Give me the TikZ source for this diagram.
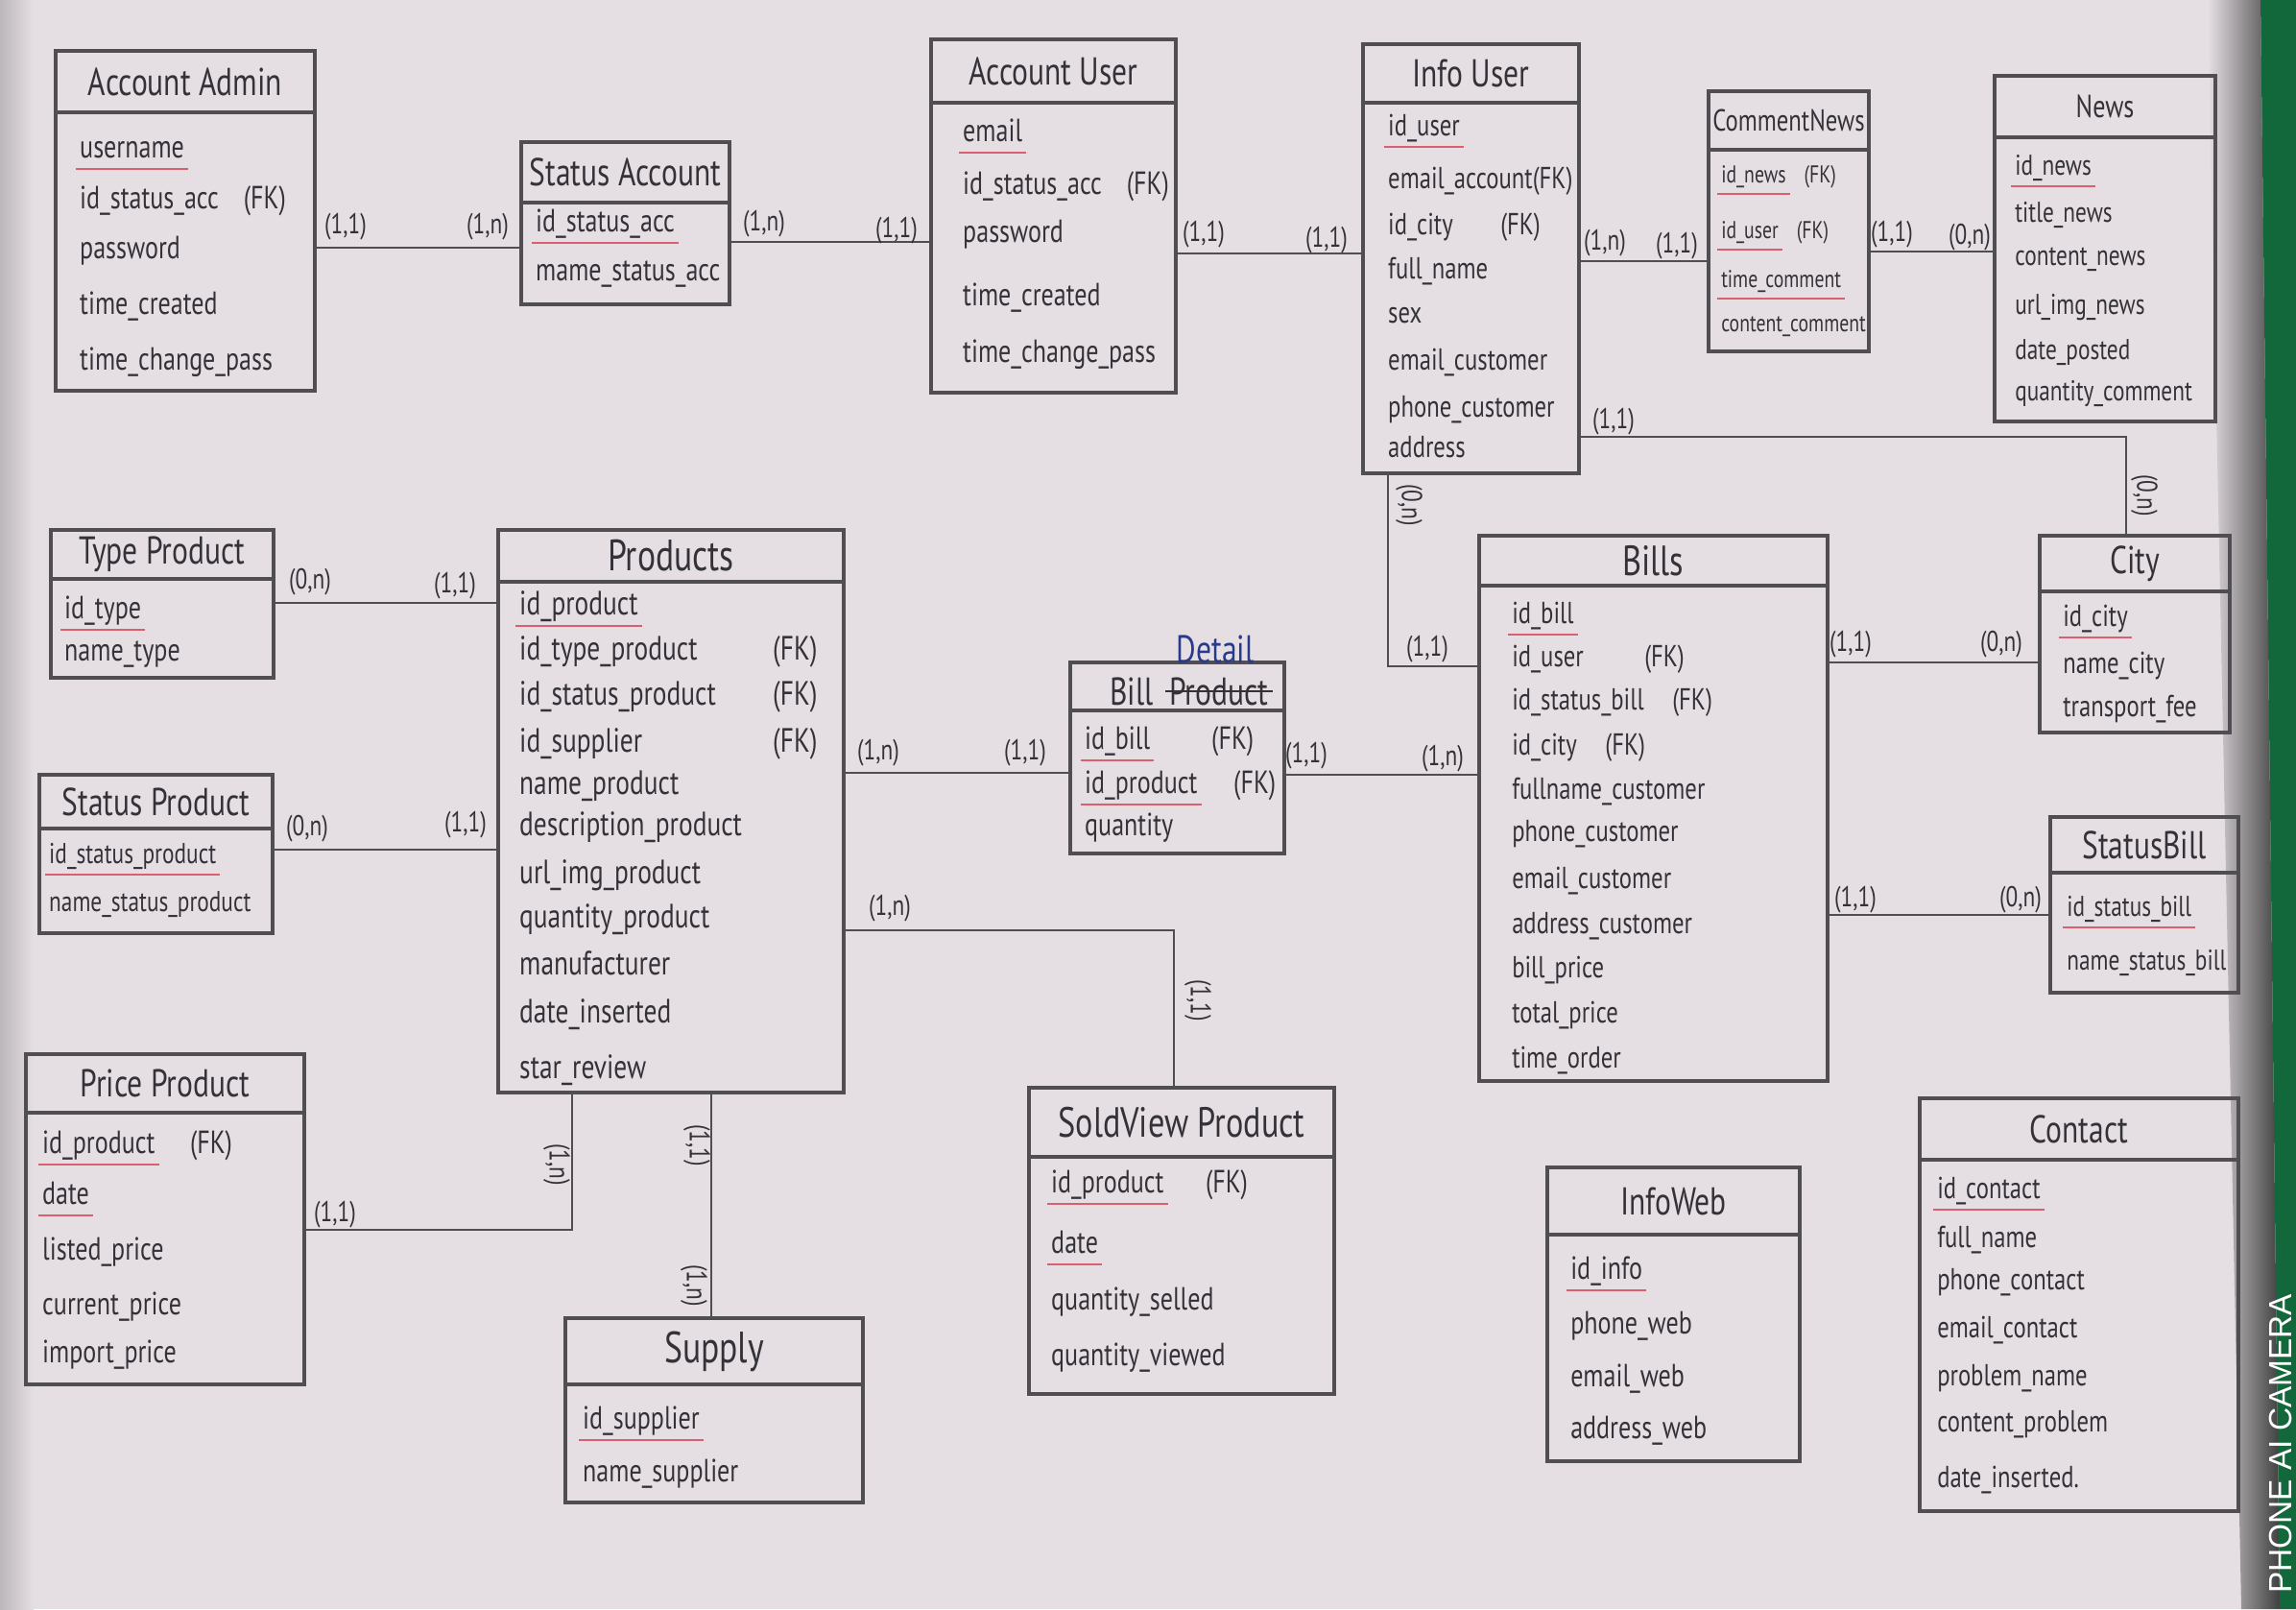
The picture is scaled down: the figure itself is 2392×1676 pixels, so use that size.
\documentclass[tikz,border=0pt]{standalone}
\usepackage{fontspec}
\setmainfont{PT Sans}[FakeStretch=0.78]
\newfontfamily\markfont{Liberation Sans}
\usetikzlibrary{fit,positioning}
\definecolor{paper}{RGB}{229,223,227}
\definecolor{pencil}{RGB}{80,78,82}
\definecolor{ink}{RGB}{52,50,56}
\definecolor{pkred}{RGB}{216,96,112}
\definecolor{bluepen}{RGB}{40,58,140}
\definecolor{felt}{RGB}{18,104,58}
\newcommand{\entity}[7]{%
  \node[box, fit={(#2,#3) (#4,#5)}] (#1) {};
  \draw[box] (#1.west |- 0,#6) -- (#1.east |- 0,#6);
  \node[title] (#1-title) at ({(#2+#4)/2},{(#3+#6)/2}) {#7};
}
\tikzset{
  box/.style={draw=pencil, line width=0.9pt, inner sep=0pt},
  title/.style={text=ink, font=\fontsize{11.5}{13}\selectfont},
  attr/.style={text=ink, anchor=west, inner sep=1pt, text height=7pt, text depth=2pt, font=\fontsize{9.5}{11}\selectfont},
  pk/.style={attr, append after command={(\tikzlastnode.south west) edge[pkline] (\tikzlastnode.south east)}},
  pkline/.style={draw=pkred, line width=0.8pt},
  link/.style={draw=pencil, line width=0.8pt},
  card/.style={text=ink, inner sep=1pt, font=\fontsize{8.5}{10}\selectfont},
  cardv/.style={card, rotate=-90},
}
\begin{document}
\begin{tikzpicture}[x=0.01cm, y=-0.01cm]
  %%%%% PAPER %%%%%
  \useasboundingbox (0,0) rectangle (2392,1676);
  \fill[paper] (0,0) rectangle (2392,1676);
  \shade[left color=black!18!paper, right color=paper] (0,0) rectangle (35,1676);
  \shade[left color=paper, right color=black!75] (2300,0) -- (2355,0) -- (2375,1676) -- (2335,1676) -- cycle;
  \fill[felt] (2355,0) -- (2392,0) -- (2392,1676) -- (2375,1676) -- cycle;
  \node[text=white, rotate=90, anchor=west, font=\markfont\fontsize{9.5}{11}\selectfont] (mark) at (2376,1672) {PHONE AI CAMERA};

  %%%%% ACCOUNTS %%%%%
  \entity{admin}{58}{53}{328}{407}{117}{Account Admin}
  \node[pk] (admin-a1) at (79,156) {username};
  \node[attr] (admin-a2) at (79,209) {id\_status\_acc};
  \node[attr, right=5pt of admin-a2] (admin-fk) {(FK)};
  \node[attr] (admin-a3) at (79,261) {password};
  \node[attr] (admin-a4) at (79,319) {time\_created};
  \node[attr] (admin-a5) at (79,377) {time\_change\_pass};

  \entity{sacc}{543}{148}{760}{317}{211}{Status Account}
  \node[pk] (sacc-a1) at (554,233) {id\_status\_acc};
  \node[attr] (sacc-a2) at (554,284) {mame\_status\_acc};

  \entity{auser}{970}{41}{1225}{409}{107}{Account User}
  \node[pk] (auser-a1) at (999,139) {email};
  \node[attr] (auser-a2) at (999,194) {id\_status\_acc};
  \node[attr, right=5pt of auser-a2] (auser-fk) {(FK)};
  \node[attr] (auser-a3) at (999,244) {password};
  \node[attr] (auser-a4) at (999,310) {time\_created};
  \node[attr] (auser-a5) at (999,369) {time\_change\_pass};

  \entity{iuser}{1420}{46}{1645}{493}{107}{Info User}
  \begin{scope}[attr/.append style={font=\fontsize{9}{10}\selectfont}]
  \node[pk] (iuser-a1) at (1442,133) {id\_user};
  \node[attr] (iuser-a2) at (1442,188) {email\_account(FK)};
  \node[attr] (iuser-a3) at (1442,236) {id\_city};
  \node[attr] (iuser-fk) at (1559,236) {(FK)};
  \node[attr] (iuser-a4) at (1442,282) {full\_name};
  \node[attr] (iuser-a5) at (1442,328) {sex};
  \node[attr] (iuser-a6) at (1442,377) {email\_customer};
  \node[attr] (iuser-a7) at (1442,426) {phone\_customer};
  \node[attr] (iuser-a8) at (1442,468) {address};
  \end{scope}

  %%%%% NEWS %%%%%
  \entity{cnews}{1780}{95}{1947}{366}{156}{\fontsize{9}{10}\selectfont CommentNews}
  \begin{scope}[attr/.append style={font=\fontsize{7.2}{9}\selectfont}]
  \node[pk] (cnews-a1) at (1789,182) {id\_news};
  \node[attr, right=3pt of cnews-a1] (cnews-fk1) {(FK)};
  \node[pk] (cnews-a2) at (1789,240) {id\_user};
  \node[attr, right=3pt of cnews-a2] (cnews-fk2) {(FK)};
  \node[pk] (cnews-a3) at (1789,291) {time\_comment};
  \node[attr] (cnews-a4) at (1789,337) {content\_comment};
  \end{scope}

  \entity{news}{2078}{79}{2308}{439}{143}{\fontsize{9.5}{11}\selectfont News}
  \begin{scope}[attr/.append style={font=\fontsize{8.5}{10}\selectfont}]
  \node[pk] (news-a1) at (2095,174) {id\_news};
  \node[attr] (news-a2) at (2095,223) {title\_news};
  \node[attr] (news-a3) at (2095,268) {content\_news};
  \node[attr] (news-a4) at (2095,319) {url\_img\_news};
  \node[attr] (news-a5) at (2095,366) {date\_posted};
  \node[attr] (news-a6) at (2095,409) {quantity\_comment};
  \end{scope}

  %%%%% PRODUCTS %%%%%
  \entity{tprod}{53}{552}{285}{706}{603}{Type Product}
  \node[pk] (tprod-a1) at (63,636) {id\_type};
  \node[attr] (tprod-a2) at (63,680) {name\_type};

  \entity{sprod}{41}{807}{284}{972}{863}{Status Product}
  \begin{scope}[attr/.append style={font=\fontsize{8.5}{10}\selectfont}]
  \node[pk] (sprod-a1) at (47,891) {id\_status\_product};
  \node[attr] (sprod-a2) at (47,941) {name\_status\_product};
  \end{scope}

  \entity{pprod}{27}{1098}{317}{1442}{1159}{Price Product}
  \node[pk] (pprod-a1) at (40,1193) {id\_product};
  \node[attr, right=8pt of pprod-a1] (pprod-fk) {(FK)};
  \node[pk] (pprod-a2) at (40,1246) {date};
  \node[attr] (pprod-a3) at (40,1304) {listed\_price};
  \node[attr] (pprod-a4) at (40,1361) {current\_price};
  \node[attr] (pprod-a5) at (40,1411) {import\_price};

  \entity{prod}{519}{552}{879}{1138}{606}{\fontsize{13}{15}\selectfont Products}
  \begin{scope}[attr/.append style={font=\fontsize{10}{12}\selectfont}]
  \node[pk] (prod-a1) at (537,632) {id\_product};
  \node[attr] (prod-a2) at (537,679) {id\_type\_product};
  \node[attr] (prod-fk2) at (801,679) {(FK)};
  \node[attr] (prod-a3) at (537,726) {id\_status\_product};
  \node[attr] (prod-fk3) at (801,726) {(FK)};
  \node[attr] (prod-a4) at (537,775) {id\_supplier};
  \node[attr] (prod-fk4) at (801,775) {(FK)};
  \node[attr] (prod-a5) at (537,819) {name\_product};
  \node[attr] (prod-a6) at (537,862) {description\_product};
  \node[attr] (prod-a7) at (537,912) {url\_img\_product};
  \node[attr] (prod-a8) at (537,958) {quantity\_product};
  \node[attr] (prod-a9) at (537,1007) {manufacturer};
  \node[attr] (prod-a10) at (537,1057) {date\_inserted};
  \node[attr] (prod-a11) at (537,1115) {star\_review};
  \end{scope}

  \entity{supply}{589}{1373}{899}{1565}{1442}{\fontsize{13}{15}\selectfont Supply}
  \node[pk] (supply-a1) at (603,1480) {id\_supplier};
  \node[attr] (supply-a2) at (603,1535) {name\_supplier};

  \entity{svp}{1072}{1133}{1390}{1452}{1205}{\fontsize{12.5}{14}\selectfont SoldView Product}
  \node[pk] (svp-a1) at (1091,1234) {id\_product};
  \node[attr, right=10pt of svp-a1] (svp-fk) {(FK)};
  \node[pk] (svp-a2) at (1091,1297) {date};
  \node[attr] (svp-a3) at (1091,1356) {quantity\_selled};
  \node[attr] (svp-a4) at (1091,1414) {quantity\_viewed};

  %%%%% BILLS %%%%%
  \entity{bdet}{1115}{690}{1338}{889}{740}{}
  \node[title, anchor=east] (bdet-bill) at (1214,720) {Bill};
  \node[title, anchor=west, inner sep=1pt] (bdet-old) at (bdet-bill.east) {Product};
  \draw[ink, line width=0.8pt] (bdet-old.west) -- (bdet-old.east);
  \node[title, text=bluepen] (bdet-new) at (1266,676) {Detail};
  \node[pk] (bdet-a1) at (1126,772) {id\_bill};
  \node[attr] (bdet-fk1) at (1258,772) {(FK)};
  \node[pk] (bdet-a2) at (1126,818) {id\_product};
  \node[attr] (bdet-fk2) at (1281,818) {(FK)};
  \node[attr] (bdet-a3) at (1126,862) {quantity};

  \entity{bills}{1541}{558}{1904}{1126}{610}{\fontsize{12.5}{14}\selectfont Bills}
  \begin{scope}[attr/.append style={font=\fontsize{9}{11}\selectfont}]
  \node[pk] (bills-a1) at (1571,641) {id\_bill};
  \node[attr] (bills-a2) at (1571,686) {id\_user};
  \node[attr] (bills-fk2) at (1709,686) {(FK)};
  \node[attr] (bills-a3) at (1571,731) {id\_status\_bill};
  \node[attr, right=6pt of bills-a3] (bills-fk3) {(FK)};
  \node[attr] (bills-a4) at (1571,778) {id\_city};
  \node[attr, right=6pt of bills-a4] (bills-fk4) {(FK)};
  \node[attr] (bills-a5) at (1571,824) {fullname\_customer};
  \node[attr] (bills-a6) at (1571,868) {phone\_customer};
  \node[attr] (bills-a7) at (1571,917) {email\_customer};
  \node[attr] (bills-a8) at (1571,964) {address\_customer};
  \node[attr] (bills-a9) at (1571,1010) {bill\_price};
  \node[attr] (bills-a10) at (1571,1057) {total\_price};
  \node[attr] (bills-a11) at (1571,1104) {time\_order};
  \end{scope}

  \entity{city}{2125}{558}{2323}{763}{616}{City}
  \begin{scope}[attr/.append style={font=\fontsize{9}{11}\selectfont}]
  \node[pk] (city-a1) at (2145,644) {id\_city};
  \node[attr] (city-a2) at (2145,693) {name\_city};
  \node[attr] (city-a3) at (2145,738) {transport\_fee};
  \end{scope}

  \entity{sbill}{2136}{851}{2332}{1034}{909}{StatusBill}
  \begin{scope}[attr/.append style={font=\fontsize{8.5}{10}\selectfont}]
  \node[pk] (sbill-a1) at (2149,946) {id\_status\_bill};
  \node[attr] (sbill-a2) at (2149,1002) {name\_status\_bill};
  \end{scope}

  %%%%% WEBSITE %%%%%
  \entity{iweb}{1612}{1216}{1875}{1522}{1286}{InfoWeb}
  \node[pk] (iweb-a1) at (1632,1324) {id\_info};
  \node[attr] (iweb-a2) at (1632,1381) {phone\_web};
  \node[attr] (iweb-a3) at (1632,1436) {email\_web};
  \node[attr] (iweb-a4) at (1632,1490) {address\_web};

  \entity{contact}{2000}{1144}{2332}{1574}{1208}{Contact}
  \begin{scope}[attr/.append style={font=\fontsize{9}{11}\selectfont}]
  \node[pk] (contact-a1) at (2014,1240) {id\_contact};
  \node[attr] (contact-a2) at (2014,1291) {full\_name};
  \node[attr] (contact-a3) at (2014,1335) {phone\_contact};
  \node[attr] (contact-a4) at (2014,1385) {email\_contact};
  \node[attr] (contact-a5) at (2014,1435) {problem\_name};
  \node[attr] (contact-a6) at (2014,1483) {content\_problem};
  \node[attr] (contact-a7) at (2014,1541) {date\_inserted.};
  \end{scope}

  %%%%% LINKS %%%%%
  \draw[link] (admin.east |- 0,258) -- (sacc.west |- 0,258);
  \node[card] (c1a) at (360,236) {(1,1)};
  \node[card] (c1b) at (508,236) {(1,n)};

  \draw[link] (sacc.east |- 0,252) -- (auser.west |- 0,252);
  \node[card] (c2a) at (796,233) {(1,n)};
  \node[card] (c2b) at (934,240) {(1,1)};

  \draw[link] (auser.east |- 0,264) -- (iuser.west |- 0,264);
  \node[card] (c3a) at (1254,244) {(1,1)};
  \node[card] (c3b) at (1382,250) {(1,1)};

  \draw[link] (iuser.east |- 0,272) -- (cnews.west |- 0,272);
  \node[card] (c4a) at (1672,253) {(1,n)};
  \node[card] (c4b) at (1747,256) {(1,1)};

  \draw[link] (cnews.east |- 0,262) -- (news.west |- 0,262);
  \node[card] (c5a) at (1971,244) {(1,1)};
  \node[card] (c5b) at (2052,247) {(0,n)};

  \coordinate (cityjoint) at (2215,455);
  \draw[link] (iuser.east |- cityjoint) -- (cityjoint) -- (cityjoint |- city.north);
  \node[card] (c6a) at (1681,439) {(1,1)};
  \node[cardv] (c6b) at (2234,516) {(0,n)};

  \coordinate (billjoint) at (1446,694);
  \draw[link] (billjoint |- iuser.south) -- (billjoint) -- (billjoint -| bills.west);
  \node[cardv] (c7a) at (1468,526) {(0,n)};
  \node[card] (c7b) at (1487,676) {(1,1)};

  \draw[link] (bills.east |- 0,690) -- (city.west |- 0,690);
  \node[card] (c8a) at (1928,671) {(1,1)};
  \node[card] (c8b) at (2085,671) {(0,n)};

  \draw[link] (bills.east |- 0,953) -- (sbill.west |- 0,953);
  \node[card] (c9a) at (1933,937) {(1,1)};
  \node[card] (c9b) at (2105,937) {(0,n)};

  \draw[link] (tprod.east |- 0,628) -- (prod.west |- 0,628);
  \node[card] (c10a) at (323,606) {(0,n)};
  \node[card] (c10b) at (474,610) {(1,1)};

  \draw[link] (sprod.east |- 0,885) -- (prod.west |- 0,885);
  \node[card] (c11a) at (320,863) {(0,n)};
  \node[card] (c11b) at (485,859) {(1,1)};

  \draw[link] (prod.east |- 0,805) -- (bdet.west |- 0,805);
  \node[card] (c12a) at (915,784) {(1,n)};
  \node[card] (c12b) at (1068,784) {(1,1)};

  \draw[link] (bdet.east |- 0,807) -- (bills.west |- 0,807);
  \node[card] (c13a) at (1361,787) {(1,1)};
  \node[card] (c13b) at (1503,790) {(1,n)};

  \coordinate (soldjoint) at (1223,969);
  \draw[link] (prod.east |- soldjoint) -- (soldjoint) -- (soldjoint |- svp.north);
  \node[card] (c14a) at (927,946) {(1,n)};
  \node[cardv] (c14b) at (1248,1042) {(1,1)};

  \coordinate (pricejoint) at (596,1281);
  \draw[link] (pprod.east |- pricejoint) -- (pricejoint) -- (pricejoint |- prod.south);
  \node[card] (c15a) at (349,1265) {(1,1)};
  \node[cardv] (c15b) at (580,1213) {(1,n)};

  \coordinate (supplyjoint) at (741,1300);
  \draw[link] (supplyjoint |- prod.south) -- (supplyjoint |- supply.north);
  \node[cardv] (c16a) at (726,1193) {(1,1)};
  \node[cardv] (c16b) at (723,1339) {(1,n)};
\end{tikzpicture}
\end{document}
